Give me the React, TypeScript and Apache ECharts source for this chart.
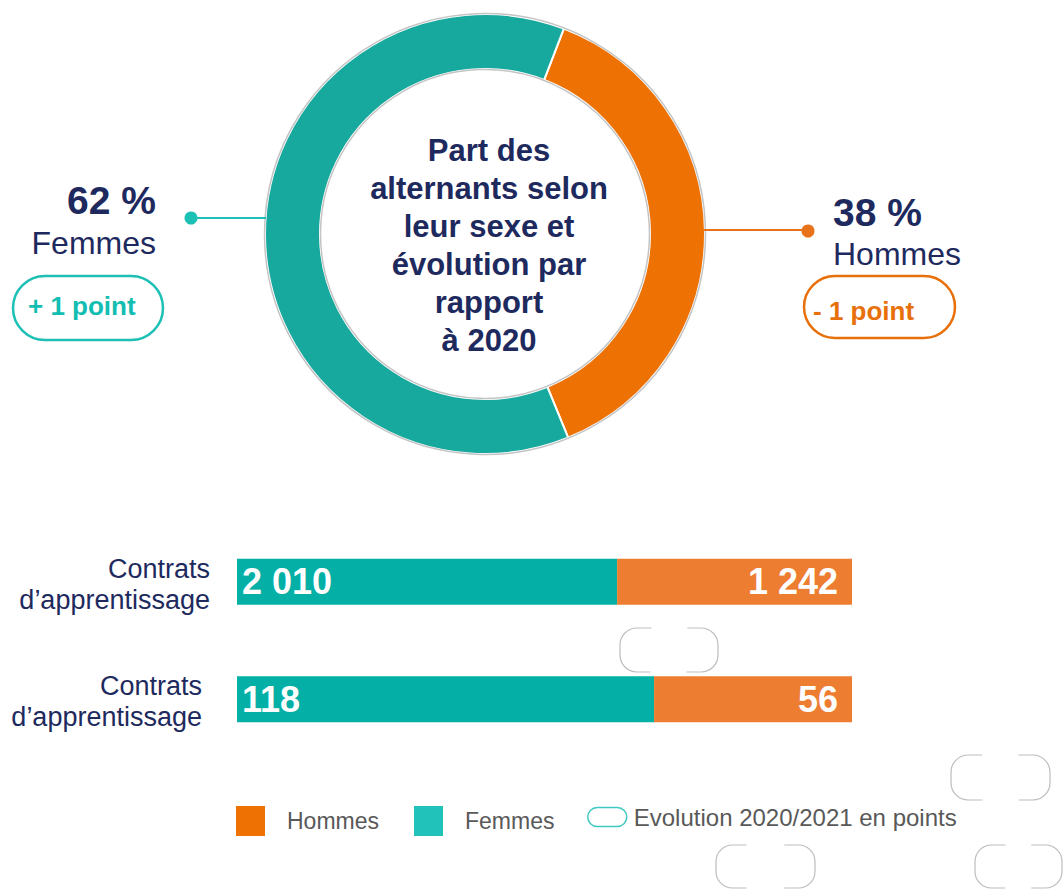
import React, { useEffect, useRef } from 'react';
import * as echarts from 'echarts';

// ---------- data ----------
const donutLabels = ['Hommes', 'Femmes'];
const donutShares = [38, 62];
const evolutionPoints = [-1, 1];
const centerTitleLines = ['Part des', 'alternants selon', 'leur sexe et', 'évolution par', 'rapport', 'à 2020'];
const barCategories = ['Contrats d’apprentissage', 'Contrats d’apprentissage'];
const femmesCounts = [2010, 118];
const hommesCounts = [1242, 56];
const legendLabels = ['Hommes', 'Femmes', 'Evolution 2020/2021 en points'];

// ---------- styles ----------
const FONT = "'Liberation Sans', Arial, sans-serif";
const NAVY = '#1E2A5E';
const TEAL_DONUT = '#17A89E';
const ORANGE_DONUT = '#EE7203';
const TEAL_BAR = '#04AFA6';
const ORANGE_BAR = '#ED7D31';
const TEAL_LINE = '#1CC0B5';
const ORANGE_LINE = '#E8731A';

const fmt = (n: number) => String(n).replace(/\B(?=(\d{3})+(?!\d))/g, ' ');
const fmtEvo = (p: number) => (p > 0 ? `+ ${p} point` : `- ${Math.abs(p)} point`);

function ghostPill(x: number, y: number, w: number, h: number) {
  const r = h / 2.6;
  const T = w - 2 * r;
  const S = h - 2 * r;
  const C = (Math.PI * r) / 2;
  const e = 14;
  return {
    type: 'rect',
    shape: { x, y, width: w, height: h, r },
    style: {
      fill: 'none',
      stroke: '#BDBDBD',
      lineWidth: 1.2,
      lineDash: [2 * e + 2 * C + S, T - 2 * e],
      lineDashOffset: 2 * C + S + e,
    },
    silent: true,
  };
}

export default function App() {
  const ref = useRef<HTMLDivElement>(null);

  useEffect(() => {
    if (!ref.current) return;
    const chart = echarts.init(ref.current, undefined, { renderer: 'svg' });
    const totals = femmesCounts.map((f, i) => f + hommesCounts[i]);
    const pillPath = 'path://M9.5,0 H29.5 A9.5,9.5 0 0 1 29.5,19 H9.5 A9.5,9.5 0 0 1 9.5,0 Z';

    const option: any = {
      animation: false,
      backgroundColor: '#ffffff',
      textStyle: { fontFamily: FONT },
      grid: { left: 237, right: 212, top: 523, bottom: 132, containLabel: false },
      xAxis: { type: 'value', min: 0, max: 100, show: false },
      yAxis: {
        type: 'category',
        inverse: true,
        data: barCategories,
        axisLine: { show: false },
        axisTick: { show: false },
        axisLabel: {
          margin: 27,
          formatter: (value: string, index: number) => {
            const parts = value.split(' ');
            const txt = parts[0] + '\n' + parts.slice(1).join(' ');
            return index === 1 ? `{b|${txt}}` : `{a|${txt}}`;
          },
          rich: {
            a: { fontSize: 27, lineHeight: 31, color: NAVY, fontFamily: FONT, padding: [5, 0, 0, 0] },
            b: { fontSize: 27, lineHeight: 31, color: NAVY, fontFamily: FONT, padding: [5, 8, 0, 0] },
          },
        },
      },
      legend: [
        {
          left: 236,
          top: 806,
          padding: 0,
          itemWidth: 29,
          itemHeight: 30,
          itemGap: 35,
          icon: 'rect',
          selectedMode: false,
          textStyle: { fontSize: 23, color: '#595959', fontFamily: FONT, padding: [0, 0, 9, 17] },
          data: [
            { name: legendLabels[0], itemStyle: { color: '#EE7203' } },
            { name: legendLabels[1], itemStyle: { color: '#20C2B9' } },
          ],
        },
        {
          left: 587,
          top: 805,
          padding: 0,
          itemWidth: 39,
          itemHeight: 19,
          selectedMode: false,
          textStyle: { fontSize: 24, color: '#595959', fontFamily: FONT, padding: [0, 0, 2, 2] },
          data: [
            {
              name: legendLabels[2],
              icon: pillPath,
              itemStyle: { color: '#ffffff', borderColor: '#3FC9C0', borderWidth: 1.5 },
            },
          ],
        },
      ],
      series: [
        {
          type: 'pie',
          name: 'Part',
          center: [485, 234],
          radius: [165, 220],
          startAngle: 69,
          clockwise: true,
          silent: true,
          label: { show: false },
          labelLine: { show: false },
          itemStyle: { borderColor: '#ffffff', borderWidth: 2 },
          data: donutLabels.map((n, i) => ({
            name: n,
            value: donutShares[i],
            itemStyle: { color: i === 0 ? ORANGE_DONUT : TEAL_DONUT },
          })),
        },
        {
          type: 'bar',
          name: legendLabels[1],
          stack: 'total',
          barWidth: 46,
          itemStyle: { color: TEAL_BAR },
          label: {
            show: true,
            position: 'insideLeft',
            distance: 5,
            color: '#ffffff',
            fontSize: 36,
            fontWeight: 'bold',
            fontFamily: FONT,
            formatter: (p: any) => fmt(femmesCounts[p.dataIndex]),
          },
          data: femmesCounts.map((v, i) => (v / totals[i]) * 100),
        },
        {
          type: 'bar',
          name: legendLabels[0],
          stack: 'total',
          barWidth: 46,
          itemStyle: { color: ORANGE_BAR },
          label: {
            show: true,
            position: 'insideRight',
            distance: 14,
            color: '#ffffff',
            fontSize: 36,
            fontWeight: 'bold',
            fontFamily: FONT,
            formatter: (p: any) => fmt(hommesCounts[p.dataIndex]),
          },
          data: hommesCounts.map((v, i) => (v / totals[i]) * 100),
        },
        {
          type: 'bar',
          name: legendLabels[2],
          stack: 'total',
          barWidth: 46,
          data: [],
        },
      ],
      graphic: [
        // donut outlines
        { type: 'circle', z: 10, silent: true, shape: { cx: 485, cy: 234, r: 220.5 }, style: { fill: 'none', stroke: '#C4C4C4', lineWidth: 1.5 } },
        { type: 'circle', z: 10, silent: true, shape: { cx: 485, cy: 234, r: 164.5 }, style: { fill: 'none', stroke: '#C4C4C4', lineWidth: 1.5 } },
        // center title
        {
          type: 'text',
          z: 10,
          style: {
            text: centerTitleLines.join('\n'),
            x: 489,
            y: 245,
            align: 'center',
            verticalAlign: 'middle',
            fontSize: 31,
            fontWeight: 'bold',
            fontFamily: FONT,
            lineHeight: 38,
            fill: NAVY,
          },
        },
        // left annotation (Femmes)
        { type: 'line', z: 10, shape: { x1: 191, y1: 218, x2: 266, y2: 218 }, style: { stroke: TEAL_LINE, lineWidth: 2 } },
        { type: 'circle', z: 10, shape: { cx: 191, cy: 218, r: 6.5 }, style: { fill: TEAL_LINE } },
        {
          type: 'text', z: 10,
          style: { text: `${donutShares[1]} %`, x: 156, y: 200, align: 'right', verticalAlign: 'middle', fontSize: 39, fontWeight: 'bold', fontFamily: FONT, fill: NAVY },
        },
        {
          type: 'text', z: 10,
          style: { text: donutLabels[1], x: 156, y: 243, align: 'right', verticalAlign: 'middle', fontSize: 32, fontFamily: FONT, fill: NAVY },
        },
        { type: 'rect', z: 10, shape: { x: 13, y: 276, width: 150, height: 64, r: 32 }, style: { fill: 'none', stroke: TEAL_LINE, lineWidth: 2.5 } },
        {
          type: 'text', z: 10,
          style: { text: fmtEvo(evolutionPoints[1]), x: 28, y: 306, align: 'left', verticalAlign: 'middle', fontSize: 26, fontWeight: 'bold', fontFamily: FONT, fill: '#12BDB2' },
        },
        // right annotation (Hommes)
        { type: 'line', z: 10, shape: { x1: 703, y1: 230, x2: 808, y2: 230 }, style: { stroke: ORANGE_LINE, lineWidth: 2 } },
        { type: 'circle', z: 10, shape: { cx: 808, cy: 231, r: 6.5 }, style: { fill: ORANGE_LINE } },
        {
          type: 'text', z: 10,
          style: { text: `${donutShares[0]} %`, x: 833, y: 212, align: 'left', verticalAlign: 'middle', fontSize: 39, fontWeight: 'bold', fontFamily: FONT, fill: NAVY },
        },
        {
          type: 'text', z: 10,
          style: { text: donutLabels[0], x: 833, y: 254, align: 'left', verticalAlign: 'middle', fontSize: 32, fontFamily: FONT, fill: NAVY },
        },
        { type: 'rect', z: 10, shape: { x: 804, y: 276, width: 151, height: 62, r: 31 }, style: { fill: 'none', stroke: '#E8700A', lineWidth: 2.5 } },
        {
          type: 'text', z: 10,
          style: { text: fmtEvo(evolutionPoints[0]), x: 813, y: 311, align: 'left', verticalAlign: 'middle', fontSize: 26, fontWeight: 'bold', fontFamily: FONT, fill: '#E8700A' },
        },
        // faint empty pills
        ghostPill(620, 628, 98, 44),
        ghostPill(951, 755, 99, 45),
        ghostPill(716, 845, 99, 43),
        ghostPill(975, 845, 87, 43),
      ],
    };

    chart.setOption(option);
    return () => chart.dispose();
  }, []);

  return (
    <div
      ref={ref}
      style={{ position: 'fixed', left: 0, top: 0, width: 1064, height: 890, background: '#fff' }}
    />
  );
}
